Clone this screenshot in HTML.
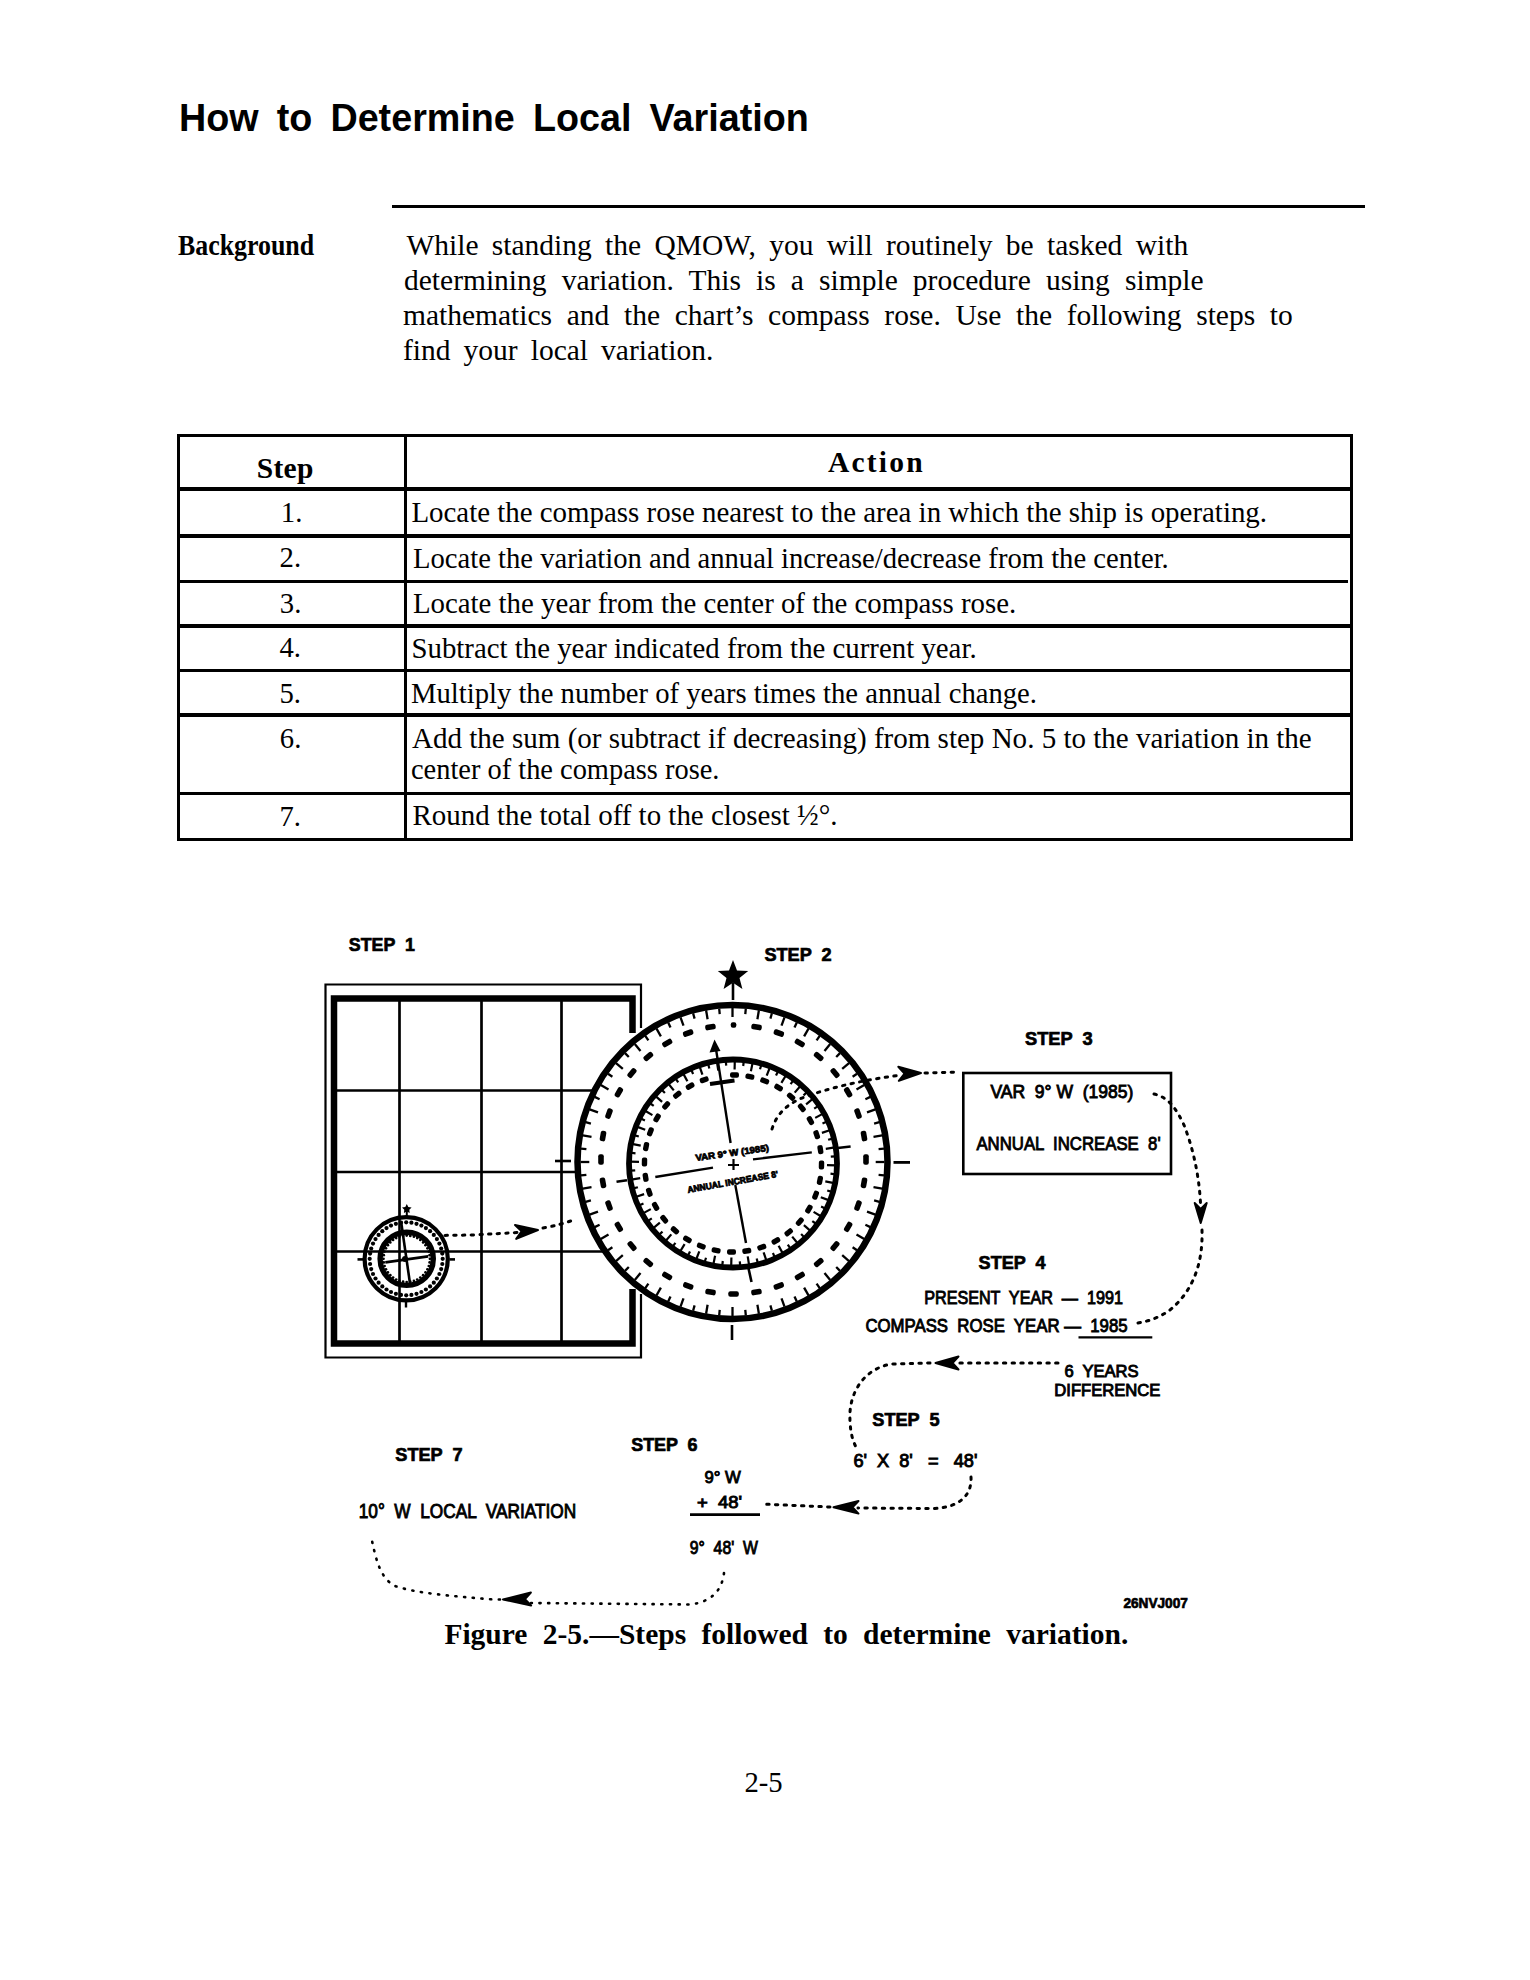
<!DOCTYPE html>
<html><head><meta charset="utf-8"><title>How to Determine Local Variation</title>
<style>
html,body{margin:0;padding:0;background:#fff}
body{width:1530px;height:1980px;position:relative;overflow:hidden;color:#000}
.t{position:absolute;white-space:pre;line-height:1;color:#000}
.S{font-family:"Liberation Sans",sans-serif}
.Sb{font-family:"Liberation Sans",sans-serif;font-weight:bold}
.R{font-family:"Liberation Serif",serif}
.Rb{font-family:"Liberation Serif",serif;font-weight:bold}
.ln{position:absolute;background:#000}
.fig{position:absolute;left:0;top:0}
</style></head><body>
<svg class="fig" width="1530" height="1980" viewBox="0 0 1530 1980">
<path d="M641,1028 V984.5 H325.5 V1357.5 H641 V1294" fill="none" stroke="#000" stroke-width="2.2"/>
<path d="M632.5,1033 V998.5 H334 V1343.5 H632.5 V1289" fill="none" stroke="#000" stroke-width="6.5"/>
<line x1="399.5" y1="1000" x2="399.5" y2="1342" stroke="#000" stroke-width="2.7"/>
<line x1="481.5" y1="1000" x2="481.5" y2="1342" stroke="#000" stroke-width="2.7"/>
<line x1="561.5" y1="1000" x2="561.5" y2="1342" stroke="#000" stroke-width="2.7"/>
<line x1="336" y1="1090.5" x2="630" y2="1090.5" stroke="#000" stroke-width="2.7"/>
<line x1="336" y1="1172" x2="630" y2="1172" stroke="#000" stroke-width="2.7"/>
<line x1="336" y1="1251.5" x2="630" y2="1251.5" stroke="#000" stroke-width="2.7"/>
<circle cx="406.2" cy="1258.8" r="41.6" fill="#fff" stroke="#000" stroke-width="4.2"/>
<line x1="399.5" y1="1216" x2="399.5" y2="1302" stroke="#000" stroke-width="2.6"/>
<line x1="364" y1="1251.5" x2="448" y2="1251.5" stroke="#000" stroke-width="2.6"/>
<circle cx="406.2" cy="1222.3" r="2.1" fill="#000"/>
<circle cx="411.4" cy="1222.7" r="2.1" fill="#000"/>
<circle cx="416.5" cy="1223.8" r="2.1" fill="#000"/>
<circle cx="421.4" cy="1225.6" r="2.1" fill="#000"/>
<circle cx="425.9" cy="1228.1" r="2.1" fill="#000"/>
<circle cx="430.1" cy="1231.2" r="2.1" fill="#000"/>
<circle cx="433.8" cy="1234.9" r="2.1" fill="#000"/>
<circle cx="436.9" cy="1239.1" r="2.1" fill="#000"/>
<circle cx="439.4" cy="1243.6" r="2.1" fill="#000"/>
<circle cx="441.2" cy="1248.5" r="2.1" fill="#000"/>
<circle cx="442.3" cy="1253.6" r="2.1" fill="#000"/>
<circle cx="442.7" cy="1258.8" r="2.1" fill="#000"/>
<circle cx="442.3" cy="1264.0" r="2.1" fill="#000"/>
<circle cx="441.2" cy="1269.1" r="2.1" fill="#000"/>
<circle cx="439.4" cy="1274.0" r="2.1" fill="#000"/>
<circle cx="436.9" cy="1278.5" r="2.1" fill="#000"/>
<circle cx="433.8" cy="1282.7" r="2.1" fill="#000"/>
<circle cx="430.1" cy="1286.4" r="2.1" fill="#000"/>
<circle cx="425.9" cy="1289.5" r="2.1" fill="#000"/>
<circle cx="421.4" cy="1292.0" r="2.1" fill="#000"/>
<circle cx="416.5" cy="1293.8" r="2.1" fill="#000"/>
<circle cx="411.4" cy="1294.9" r="2.1" fill="#000"/>
<circle cx="406.2" cy="1295.3" r="2.1" fill="#000"/>
<circle cx="401.0" cy="1294.9" r="2.1" fill="#000"/>
<circle cx="395.9" cy="1293.8" r="2.1" fill="#000"/>
<circle cx="391.0" cy="1292.0" r="2.1" fill="#000"/>
<circle cx="386.5" cy="1289.5" r="2.1" fill="#000"/>
<circle cx="382.3" cy="1286.4" r="2.1" fill="#000"/>
<circle cx="378.6" cy="1282.7" r="2.1" fill="#000"/>
<circle cx="375.5" cy="1278.5" r="2.1" fill="#000"/>
<circle cx="373.0" cy="1274.0" r="2.1" fill="#000"/>
<circle cx="371.2" cy="1269.1" r="2.1" fill="#000"/>
<circle cx="370.1" cy="1264.0" r="2.1" fill="#000"/>
<circle cx="369.7" cy="1258.8" r="2.1" fill="#000"/>
<circle cx="370.1" cy="1253.6" r="2.1" fill="#000"/>
<circle cx="371.2" cy="1248.5" r="2.1" fill="#000"/>
<circle cx="373.0" cy="1243.6" r="2.1" fill="#000"/>
<circle cx="375.5" cy="1239.1" r="2.1" fill="#000"/>
<circle cx="378.6" cy="1234.9" r="2.1" fill="#000"/>
<circle cx="382.3" cy="1231.2" r="2.1" fill="#000"/>
<circle cx="386.5" cy="1228.1" r="2.1" fill="#000"/>
<circle cx="391.0" cy="1225.6" r="2.1" fill="#000"/>
<circle cx="395.9" cy="1223.8" r="2.1" fill="#000"/>
<circle cx="401.0" cy="1222.7" r="2.1" fill="#000"/>
<circle cx="406.7" cy="1258.8" r="26.6" fill="none" stroke="#000" stroke-width="5.4"/>
<circle cx="406.7" cy="1235.6" r="1.35" fill="#000"/>
<circle cx="410.3" cy="1235.9" r="1.35" fill="#000"/>
<circle cx="413.9" cy="1236.7" r="1.35" fill="#000"/>
<circle cx="417.2" cy="1238.1" r="1.35" fill="#000"/>
<circle cx="420.3" cy="1240.0" r="1.35" fill="#000"/>
<circle cx="423.1" cy="1242.4" r="1.35" fill="#000"/>
<circle cx="425.5" cy="1245.2" r="1.35" fill="#000"/>
<circle cx="427.4" cy="1248.3" r="1.35" fill="#000"/>
<circle cx="428.8" cy="1251.6" r="1.35" fill="#000"/>
<circle cx="429.6" cy="1255.2" r="1.35" fill="#000"/>
<circle cx="429.9" cy="1258.8" r="1.35" fill="#000"/>
<circle cx="429.6" cy="1262.4" r="1.35" fill="#000"/>
<circle cx="428.8" cy="1266.0" r="1.35" fill="#000"/>
<circle cx="427.4" cy="1269.3" r="1.35" fill="#000"/>
<circle cx="425.5" cy="1272.4" r="1.35" fill="#000"/>
<circle cx="423.1" cy="1275.2" r="1.35" fill="#000"/>
<circle cx="420.3" cy="1277.6" r="1.35" fill="#000"/>
<circle cx="417.2" cy="1279.5" r="1.35" fill="#000"/>
<circle cx="413.9" cy="1280.9" r="1.35" fill="#000"/>
<circle cx="410.3" cy="1281.7" r="1.35" fill="#000"/>
<circle cx="406.7" cy="1282.0" r="1.35" fill="#000"/>
<circle cx="403.1" cy="1281.7" r="1.35" fill="#000"/>
<circle cx="399.5" cy="1280.9" r="1.35" fill="#000"/>
<circle cx="396.2" cy="1279.5" r="1.35" fill="#000"/>
<circle cx="393.1" cy="1277.6" r="1.35" fill="#000"/>
<circle cx="390.3" cy="1275.2" r="1.35" fill="#000"/>
<circle cx="387.9" cy="1272.4" r="1.35" fill="#000"/>
<circle cx="386.0" cy="1269.3" r="1.35" fill="#000"/>
<circle cx="384.6" cy="1266.0" r="1.35" fill="#000"/>
<circle cx="383.8" cy="1262.4" r="1.35" fill="#000"/>
<circle cx="383.5" cy="1258.8" r="1.35" fill="#000"/>
<circle cx="383.8" cy="1255.2" r="1.35" fill="#000"/>
<circle cx="384.6" cy="1251.6" r="1.35" fill="#000"/>
<circle cx="386.0" cy="1248.3" r="1.35" fill="#000"/>
<circle cx="387.9" cy="1245.2" r="1.35" fill="#000"/>
<circle cx="390.3" cy="1242.4" r="1.35" fill="#000"/>
<circle cx="393.1" cy="1240.0" r="1.35" fill="#000"/>
<circle cx="396.2" cy="1238.1" r="1.35" fill="#000"/>
<circle cx="399.5" cy="1236.7" r="1.35" fill="#000"/>
<circle cx="403.1" cy="1235.9" r="1.35" fill="#000"/>
<line x1="357.5" y1="1259.4" x2="363" y2="1259.4" stroke="#000" stroke-width="2.6"/>
<line x1="449.5" y1="1259.4" x2="455" y2="1259.4" stroke="#000" stroke-width="2.6"/>
<line x1="406" y1="1302" x2="406" y2="1307.5" stroke="#000" stroke-width="2.4"/>
<line x1="401" y1="1221" x2="410" y2="1283.5" stroke="#000" stroke-width="2.6"/>
<line x1="385.3" y1="1262.4" x2="428.2" y2="1256.4" stroke="#000" stroke-width="2.6"/>
<circle cx="405" cy="1259" r="3" fill="#000"/>
<polygon points="406.8,1204.0 408.3,1206.9 411.6,1207.5 409.3,1209.8 409.7,1213.0 406.8,1211.6 403.9,1213.0 404.3,1209.8 402.0,1207.5 405.3,1206.9" fill="#000"/>
<line x1="406.8" y1="1211" x2="406.8" y2="1216" stroke="#000" stroke-width="2"/>
<ellipse cx="732.5" cy="1162" rx="155" ry="157" fill="#fff" stroke="#000" stroke-width="6.5"/>
<line x1="732.5" y1="1008.0" x2="732.5" y2="1017.0" stroke="#000" stroke-width="2.3"/>
<line x1="745.8" y1="1008.6" x2="745.3" y2="1014.1" stroke="#000" stroke-width="2.3"/>
<line x1="758.9" y1="1010.3" x2="757.4" y2="1019.2" stroke="#000" stroke-width="2.3"/>
<line x1="771.9" y1="1013.2" x2="770.4" y2="1018.6" stroke="#000" stroke-width="2.3"/>
<line x1="784.5" y1="1017.3" x2="781.5" y2="1025.7" stroke="#000" stroke-width="2.3"/>
<line x1="796.8" y1="1022.4" x2="794.5" y2="1027.4" stroke="#000" stroke-width="2.3"/>
<line x1="808.5" y1="1028.6" x2="804.1" y2="1036.4" stroke="#000" stroke-width="2.3"/>
<line x1="819.7" y1="1035.9" x2="816.6" y2="1040.4" stroke="#000" stroke-width="2.3"/>
<line x1="830.2" y1="1044.0" x2="824.5" y2="1050.9" stroke="#000" stroke-width="2.3"/>
<line x1="840.0" y1="1053.1" x2="836.2" y2="1057.0" stroke="#000" stroke-width="2.3"/>
<line x1="849.0" y1="1063.0" x2="842.2" y2="1068.8" stroke="#000" stroke-width="2.3"/>
<line x1="857.0" y1="1073.7" x2="852.6" y2="1076.8" stroke="#000" stroke-width="2.3"/>
<line x1="864.2" y1="1085.0" x2="856.5" y2="1089.5" stroke="#000" stroke-width="2.3"/>
<line x1="870.3" y1="1096.9" x2="865.4" y2="1099.2" stroke="#000" stroke-width="2.3"/>
<line x1="875.4" y1="1109.3" x2="867.0" y2="1112.4" stroke="#000" stroke-width="2.3"/>
<line x1="879.4" y1="1122.1" x2="874.1" y2="1123.6" stroke="#000" stroke-width="2.3"/>
<line x1="882.2" y1="1135.3" x2="873.5" y2="1136.8" stroke="#000" stroke-width="2.3"/>
<line x1="884.0" y1="1148.6" x2="878.6" y2="1149.1" stroke="#000" stroke-width="2.3"/>
<line x1="884.5" y1="1162.0" x2="875.7" y2="1162.0" stroke="#000" stroke-width="2.3"/>
<line x1="884.0" y1="1175.4" x2="878.6" y2="1174.9" stroke="#000" stroke-width="2.3"/>
<line x1="882.2" y1="1188.7" x2="873.5" y2="1187.2" stroke="#000" stroke-width="2.3"/>
<line x1="879.4" y1="1201.9" x2="874.1" y2="1200.4" stroke="#000" stroke-width="2.3"/>
<line x1="875.4" y1="1214.7" x2="867.0" y2="1211.6" stroke="#000" stroke-width="2.3"/>
<line x1="870.3" y1="1227.1" x2="865.4" y2="1224.8" stroke="#000" stroke-width="2.3"/>
<line x1="864.2" y1="1239.0" x2="856.5" y2="1234.5" stroke="#000" stroke-width="2.3"/>
<line x1="857.0" y1="1250.3" x2="852.6" y2="1247.2" stroke="#000" stroke-width="2.3"/>
<line x1="849.0" y1="1261.0" x2="842.2" y2="1255.2" stroke="#000" stroke-width="2.3"/>
<line x1="840.0" y1="1270.9" x2="836.2" y2="1267.0" stroke="#000" stroke-width="2.3"/>
<line x1="830.2" y1="1280.0" x2="824.5" y2="1273.1" stroke="#000" stroke-width="2.3"/>
<line x1="819.7" y1="1288.1" x2="816.6" y2="1283.6" stroke="#000" stroke-width="2.3"/>
<line x1="808.5" y1="1295.4" x2="804.1" y2="1287.6" stroke="#000" stroke-width="2.3"/>
<line x1="796.8" y1="1301.6" x2="794.5" y2="1296.6" stroke="#000" stroke-width="2.3"/>
<line x1="784.5" y1="1306.7" x2="781.5" y2="1298.3" stroke="#000" stroke-width="2.3"/>
<line x1="771.9" y1="1310.8" x2="770.4" y2="1305.4" stroke="#000" stroke-width="2.3"/>
<line x1="758.9" y1="1313.7" x2="757.4" y2="1304.8" stroke="#000" stroke-width="2.3"/>
<line x1="745.8" y1="1315.4" x2="745.3" y2="1309.9" stroke="#000" stroke-width="2.3"/>
<line x1="732.5" y1="1316.0" x2="732.5" y2="1307.0" stroke="#000" stroke-width="2.3"/>
<line x1="719.2" y1="1315.4" x2="719.7" y2="1309.9" stroke="#000" stroke-width="2.3"/>
<line x1="706.1" y1="1313.7" x2="707.6" y2="1304.8" stroke="#000" stroke-width="2.3"/>
<line x1="693.1" y1="1310.8" x2="694.6" y2="1305.4" stroke="#000" stroke-width="2.3"/>
<line x1="680.5" y1="1306.7" x2="683.5" y2="1298.3" stroke="#000" stroke-width="2.3"/>
<line x1="668.2" y1="1301.6" x2="670.5" y2="1296.6" stroke="#000" stroke-width="2.3"/>
<line x1="656.5" y1="1295.4" x2="660.9" y2="1287.6" stroke="#000" stroke-width="2.3"/>
<line x1="645.3" y1="1288.1" x2="648.4" y2="1283.6" stroke="#000" stroke-width="2.3"/>
<line x1="634.8" y1="1280.0" x2="640.5" y2="1273.1" stroke="#000" stroke-width="2.3"/>
<line x1="625.0" y1="1270.9" x2="628.8" y2="1267.0" stroke="#000" stroke-width="2.3"/>
<line x1="616.0" y1="1261.0" x2="622.8" y2="1255.2" stroke="#000" stroke-width="2.3"/>
<line x1="608.0" y1="1250.3" x2="612.4" y2="1247.2" stroke="#000" stroke-width="2.3"/>
<line x1="600.8" y1="1239.0" x2="608.5" y2="1234.5" stroke="#000" stroke-width="2.3"/>
<line x1="594.7" y1="1227.1" x2="599.6" y2="1224.8" stroke="#000" stroke-width="2.3"/>
<line x1="589.6" y1="1214.7" x2="598.0" y2="1211.6" stroke="#000" stroke-width="2.3"/>
<line x1="585.6" y1="1201.9" x2="590.9" y2="1200.4" stroke="#000" stroke-width="2.3"/>
<line x1="582.8" y1="1188.7" x2="591.5" y2="1187.2" stroke="#000" stroke-width="2.3"/>
<line x1="581.0" y1="1175.4" x2="586.4" y2="1174.9" stroke="#000" stroke-width="2.3"/>
<line x1="580.5" y1="1162.0" x2="589.3" y2="1162.0" stroke="#000" stroke-width="2.3"/>
<line x1="581.0" y1="1148.6" x2="586.4" y2="1149.1" stroke="#000" stroke-width="2.3"/>
<line x1="582.8" y1="1135.3" x2="591.5" y2="1136.8" stroke="#000" stroke-width="2.3"/>
<line x1="585.6" y1="1122.1" x2="590.9" y2="1123.6" stroke="#000" stroke-width="2.3"/>
<line x1="589.6" y1="1109.3" x2="598.0" y2="1112.4" stroke="#000" stroke-width="2.3"/>
<line x1="594.7" y1="1096.9" x2="599.6" y2="1099.2" stroke="#000" stroke-width="2.3"/>
<line x1="600.8" y1="1085.0" x2="608.5" y2="1089.5" stroke="#000" stroke-width="2.3"/>
<line x1="608.0" y1="1073.7" x2="612.4" y2="1076.8" stroke="#000" stroke-width="2.3"/>
<line x1="616.0" y1="1063.0" x2="622.8" y2="1068.8" stroke="#000" stroke-width="2.3"/>
<line x1="625.0" y1="1053.1" x2="628.8" y2="1057.0" stroke="#000" stroke-width="2.3"/>
<line x1="634.8" y1="1044.0" x2="640.5" y2="1050.9" stroke="#000" stroke-width="2.3"/>
<line x1="645.3" y1="1035.9" x2="648.4" y2="1040.4" stroke="#000" stroke-width="2.3"/>
<line x1="656.5" y1="1028.6" x2="660.9" y2="1036.4" stroke="#000" stroke-width="2.3"/>
<line x1="668.2" y1="1022.4" x2="670.5" y2="1027.4" stroke="#000" stroke-width="2.3"/>
<line x1="680.5" y1="1017.3" x2="683.5" y2="1025.7" stroke="#000" stroke-width="2.3"/>
<line x1="693.1" y1="1013.2" x2="694.6" y2="1018.6" stroke="#000" stroke-width="2.3"/>
<line x1="706.1" y1="1010.3" x2="707.6" y2="1019.2" stroke="#000" stroke-width="2.3"/>
<line x1="719.2" y1="1008.6" x2="719.7" y2="1014.1" stroke="#000" stroke-width="2.3"/>
<rect x="730.8" y="1022.2" width="5.5" height="5.6" rx="2" fill="#000" transform="rotate(0 733.5 1025.0)"/>
<rect x="751.3" y="1024.2" width="10.5" height="5.6" rx="2" fill="#000" transform="rotate(10 756.5 1027.0)"/>
<rect x="773.6" y="1030.3" width="10.5" height="5.6" rx="2" fill="#000" transform="rotate(20 778.8 1033.1)"/>
<rect x="794.5" y="1040.2" width="10.5" height="5.6" rx="2" fill="#000" transform="rotate(30 799.8 1043.0)"/>
<rect x="813.4" y="1053.7" width="10.5" height="5.6" rx="2" fill="#000" transform="rotate(40 818.7 1056.5)"/>
<rect x="829.8" y="1070.2" width="10.5" height="5.6" rx="2" fill="#000" transform="rotate(50 835.0 1073.0)"/>
<rect x="843.0" y="1089.5" width="10.5" height="5.6" rx="2" fill="#000" transform="rotate(60 848.2 1092.2)"/>
<rect x="852.8" y="1110.7" width="10.5" height="5.6" rx="2" fill="#000" transform="rotate(70 858.0 1113.5)"/>
<rect x="858.7" y="1133.3" width="10.5" height="5.6" rx="2" fill="#000" transform="rotate(80 864.0 1136.1)"/>
<rect x="860.8" y="1156.7" width="10.5" height="5.6" rx="2" fill="#000" transform="rotate(90 866.0 1159.5)"/>
<rect x="858.7" y="1180.1" width="10.5" height="5.6" rx="2" fill="#000" transform="rotate(100 864.0 1182.9)"/>
<rect x="852.8" y="1202.7" width="10.5" height="5.6" rx="2" fill="#000" transform="rotate(110 858.0 1205.5)"/>
<rect x="843.0" y="1224.0" width="10.5" height="5.6" rx="2" fill="#000" transform="rotate(120 848.2 1226.8)"/>
<rect x="829.8" y="1243.2" width="10.5" height="5.6" rx="2" fill="#000" transform="rotate(130 835.0 1246.0)"/>
<rect x="813.4" y="1259.7" width="10.5" height="5.6" rx="2" fill="#000" transform="rotate(140 818.7 1262.5)"/>
<rect x="794.5" y="1273.2" width="10.5" height="5.6" rx="2" fill="#000" transform="rotate(150 799.8 1276.0)"/>
<rect x="773.6" y="1283.1" width="10.5" height="5.6" rx="2" fill="#000" transform="rotate(160 778.8 1285.9)"/>
<rect x="751.3" y="1289.2" width="10.5" height="5.6" rx="2" fill="#000" transform="rotate(170 756.5 1292.0)"/>
<rect x="728.2" y="1291.2" width="10.5" height="5.6" rx="2" fill="#000" transform="rotate(180 733.5 1294.0)"/>
<rect x="705.2" y="1289.2" width="10.5" height="5.6" rx="2" fill="#000" transform="rotate(190 710.5 1292.0)"/>
<rect x="682.9" y="1283.1" width="10.5" height="5.6" rx="2" fill="#000" transform="rotate(200 688.2 1285.9)"/>
<rect x="662.0" y="1273.2" width="10.5" height="5.6" rx="2" fill="#000" transform="rotate(210 667.2 1276.0)"/>
<rect x="643.1" y="1259.7" width="10.5" height="5.6" rx="2" fill="#000" transform="rotate(220 648.3 1262.5)"/>
<rect x="626.7" y="1243.2" width="10.5" height="5.6" rx="2" fill="#000" transform="rotate(230 632.0 1246.0)"/>
<rect x="613.5" y="1224.0" width="10.5" height="5.6" rx="2" fill="#000" transform="rotate(240 618.8 1226.8)"/>
<rect x="603.7" y="1202.7" width="10.5" height="5.6" rx="2" fill="#000" transform="rotate(250 609.0 1205.5)"/>
<rect x="597.8" y="1180.1" width="10.5" height="5.6" rx="2" fill="#000" transform="rotate(260 603.0 1182.9)"/>
<rect x="595.8" y="1156.7" width="10.5" height="5.6" rx="2" fill="#000" transform="rotate(270 601.0 1159.5)"/>
<rect x="597.8" y="1133.3" width="10.5" height="5.6" rx="2" fill="#000" transform="rotate(280 603.0 1136.1)"/>
<rect x="603.7" y="1110.7" width="10.5" height="5.6" rx="2" fill="#000" transform="rotate(290 609.0 1113.5)"/>
<rect x="613.5" y="1089.5" width="10.5" height="5.6" rx="2" fill="#000" transform="rotate(300 618.8 1092.2)"/>
<rect x="626.7" y="1070.2" width="10.5" height="5.6" rx="2" fill="#000" transform="rotate(310 632.0 1073.0)"/>
<rect x="643.1" y="1053.7" width="10.5" height="5.6" rx="2" fill="#000" transform="rotate(320 648.3 1056.5)"/>
<rect x="662.0" y="1040.2" width="10.5" height="5.6" rx="2" fill="#000" transform="rotate(330 667.2 1043.0)"/>
<rect x="682.9" y="1030.3" width="10.5" height="5.6" rx="2" fill="#000" transform="rotate(340 688.2 1033.1)"/>
<rect x="705.2" y="1024.2" width="10.5" height="5.6" rx="2" fill="#000" transform="rotate(350 710.5 1027.0)"/>
<line x1="733" y1="983" x2="733" y2="1000" stroke="#000" stroke-width="2.6"/>
<polygon points="733.0,960.0 737.0,970.5 748.2,971.1 739.5,978.1 742.4,988.9 733.0,982.8 723.6,988.9 726.5,978.1 717.8,971.1 729.0,970.5" fill="#000"/>
<line x1="893.5" y1="1162.4" x2="910" y2="1162.4" stroke="#000" stroke-width="2.8"/>
<line x1="555" y1="1161" x2="571" y2="1161" stroke="#000" stroke-width="2.6"/>
<line x1="732" y1="1325" x2="732" y2="1340" stroke="#000" stroke-width="2.6"/>
<circle cx="733" cy="1163.5" r="104" fill="none" stroke="#000" stroke-width="5.8"/>
<line x1="716.9" y1="1061.8" x2="718.3" y2="1070.7" stroke="#000" stroke-width="2.2"/>
<line x1="725.8" y1="1060.8" x2="726.2" y2="1065.7" stroke="#000" stroke-width="2.2"/>
<line x1="734.8" y1="1060.5" x2="734.6" y2="1069.5" stroke="#000" stroke-width="2.2"/>
<line x1="743.8" y1="1061.1" x2="743.2" y2="1066.0" stroke="#000" stroke-width="2.2"/>
<line x1="752.7" y1="1062.4" x2="750.9" y2="1071.2" stroke="#000" stroke-width="2.2"/>
<line x1="761.4" y1="1064.5" x2="760.0" y2="1069.3" stroke="#000" stroke-width="2.2"/>
<line x1="769.9" y1="1067.3" x2="766.7" y2="1075.7" stroke="#000" stroke-width="2.2"/>
<line x1="778.2" y1="1070.9" x2="776.0" y2="1075.4" stroke="#000" stroke-width="2.2"/>
<line x1="786.0" y1="1075.2" x2="781.4" y2="1082.9" stroke="#000" stroke-width="2.2"/>
<line x1="793.5" y1="1080.2" x2="790.6" y2="1084.2" stroke="#000" stroke-width="2.2"/>
<line x1="800.6" y1="1085.8" x2="794.7" y2="1092.6" stroke="#000" stroke-width="2.2"/>
<line x1="807.1" y1="1092.0" x2="803.5" y2="1095.4" stroke="#000" stroke-width="2.2"/>
<line x1="813.0" y1="1098.7" x2="806.1" y2="1104.3" stroke="#000" stroke-width="2.2"/>
<line x1="818.4" y1="1105.9" x2="814.2" y2="1108.7" stroke="#000" stroke-width="2.2"/>
<line x1="823.1" y1="1113.6" x2="815.2" y2="1117.9" stroke="#000" stroke-width="2.2"/>
<line x1="827.1" y1="1121.6" x2="822.5" y2="1123.6" stroke="#000" stroke-width="2.2"/>
<line x1="830.4" y1="1130.0" x2="821.9" y2="1132.9" stroke="#000" stroke-width="2.2"/>
<line x1="832.9" y1="1138.6" x2="828.1" y2="1139.8" stroke="#000" stroke-width="2.2"/>
<line x1="834.7" y1="1147.4" x2="825.8" y2="1148.8" stroke="#000" stroke-width="2.2"/>
<line x1="835.7" y1="1156.3" x2="830.8" y2="1156.7" stroke="#000" stroke-width="2.2"/>
<line x1="836.0" y1="1165.3" x2="827.0" y2="1165.1" stroke="#000" stroke-width="2.2"/>
<line x1="835.4" y1="1174.3" x2="830.5" y2="1173.7" stroke="#000" stroke-width="2.2"/>
<line x1="834.1" y1="1183.2" x2="825.3" y2="1181.4" stroke="#000" stroke-width="2.2"/>
<line x1="832.0" y1="1191.9" x2="827.2" y2="1190.5" stroke="#000" stroke-width="2.2"/>
<line x1="829.2" y1="1200.4" x2="820.8" y2="1197.2" stroke="#000" stroke-width="2.2"/>
<line x1="825.6" y1="1208.7" x2="821.1" y2="1206.5" stroke="#000" stroke-width="2.2"/>
<line x1="821.3" y1="1216.5" x2="813.6" y2="1211.9" stroke="#000" stroke-width="2.2"/>
<line x1="816.3" y1="1224.0" x2="812.3" y2="1221.1" stroke="#000" stroke-width="2.2"/>
<line x1="810.7" y1="1231.1" x2="803.9" y2="1225.2" stroke="#000" stroke-width="2.2"/>
<line x1="804.5" y1="1237.6" x2="801.1" y2="1234.0" stroke="#000" stroke-width="2.2"/>
<line x1="797.8" y1="1243.5" x2="792.2" y2="1236.6" stroke="#000" stroke-width="2.2"/>
<line x1="790.6" y1="1248.9" x2="787.8" y2="1244.7" stroke="#000" stroke-width="2.2"/>
<line x1="782.9" y1="1253.6" x2="778.6" y2="1245.7" stroke="#000" stroke-width="2.2"/>
<line x1="774.9" y1="1257.6" x2="772.9" y2="1253.0" stroke="#000" stroke-width="2.2"/>
<line x1="766.5" y1="1260.9" x2="763.6" y2="1252.4" stroke="#000" stroke-width="2.2"/>
<line x1="757.9" y1="1263.4" x2="756.7" y2="1258.6" stroke="#000" stroke-width="2.2"/>
<line x1="749.1" y1="1265.2" x2="747.7" y2="1256.3" stroke="#000" stroke-width="2.2"/>
<line x1="740.2" y1="1266.2" x2="739.8" y2="1261.3" stroke="#000" stroke-width="2.2"/>
<line x1="731.2" y1="1266.5" x2="731.4" y2="1257.5" stroke="#000" stroke-width="2.2"/>
<line x1="722.2" y1="1265.9" x2="722.8" y2="1261.0" stroke="#000" stroke-width="2.2"/>
<line x1="713.3" y1="1264.6" x2="715.1" y2="1255.8" stroke="#000" stroke-width="2.2"/>
<line x1="704.6" y1="1262.5" x2="706.0" y2="1257.7" stroke="#000" stroke-width="2.2"/>
<line x1="696.1" y1="1259.7" x2="699.3" y2="1251.3" stroke="#000" stroke-width="2.2"/>
<line x1="687.8" y1="1256.1" x2="690.0" y2="1251.6" stroke="#000" stroke-width="2.2"/>
<line x1="680.0" y1="1251.8" x2="684.6" y2="1244.1" stroke="#000" stroke-width="2.2"/>
<line x1="672.5" y1="1246.8" x2="675.4" y2="1242.8" stroke="#000" stroke-width="2.2"/>
<line x1="665.4" y1="1241.2" x2="671.3" y2="1234.4" stroke="#000" stroke-width="2.2"/>
<line x1="658.9" y1="1235.0" x2="662.5" y2="1231.6" stroke="#000" stroke-width="2.2"/>
<line x1="653.0" y1="1228.3" x2="659.9" y2="1222.7" stroke="#000" stroke-width="2.2"/>
<line x1="647.6" y1="1221.1" x2="651.8" y2="1218.3" stroke="#000" stroke-width="2.2"/>
<line x1="642.9" y1="1213.4" x2="650.8" y2="1209.1" stroke="#000" stroke-width="2.2"/>
<line x1="638.9" y1="1205.4" x2="643.5" y2="1203.4" stroke="#000" stroke-width="2.2"/>
<line x1="635.6" y1="1197.0" x2="644.1" y2="1194.1" stroke="#000" stroke-width="2.2"/>
<line x1="633.1" y1="1188.4" x2="637.9" y2="1187.2" stroke="#000" stroke-width="2.2"/>
<line x1="631.3" y1="1179.6" x2="640.2" y2="1178.2" stroke="#000" stroke-width="2.2"/>
<line x1="630.3" y1="1170.7" x2="635.2" y2="1170.3" stroke="#000" stroke-width="2.2"/>
<line x1="630.0" y1="1161.7" x2="639.0" y2="1161.9" stroke="#000" stroke-width="2.2"/>
<line x1="630.6" y1="1152.7" x2="635.5" y2="1153.3" stroke="#000" stroke-width="2.2"/>
<line x1="631.9" y1="1143.8" x2="640.7" y2="1145.6" stroke="#000" stroke-width="2.2"/>
<line x1="634.0" y1="1135.1" x2="638.8" y2="1136.5" stroke="#000" stroke-width="2.2"/>
<line x1="636.8" y1="1126.6" x2="645.2" y2="1129.8" stroke="#000" stroke-width="2.2"/>
<line x1="640.4" y1="1118.3" x2="644.9" y2="1120.5" stroke="#000" stroke-width="2.2"/>
<line x1="644.7" y1="1110.5" x2="652.4" y2="1115.1" stroke="#000" stroke-width="2.2"/>
<line x1="649.7" y1="1103.0" x2="653.7" y2="1105.9" stroke="#000" stroke-width="2.2"/>
<line x1="655.3" y1="1095.9" x2="662.1" y2="1101.8" stroke="#000" stroke-width="2.2"/>
<line x1="661.5" y1="1089.4" x2="664.9" y2="1093.0" stroke="#000" stroke-width="2.2"/>
<line x1="668.2" y1="1083.5" x2="673.8" y2="1090.4" stroke="#000" stroke-width="2.2"/>
<line x1="675.4" y1="1078.1" x2="678.2" y2="1082.3" stroke="#000" stroke-width="2.2"/>
<line x1="683.1" y1="1073.4" x2="687.4" y2="1081.3" stroke="#000" stroke-width="2.2"/>
<line x1="691.1" y1="1069.4" x2="693.1" y2="1074.0" stroke="#000" stroke-width="2.2"/>
<line x1="699.5" y1="1066.1" x2="702.4" y2="1074.6" stroke="#000" stroke-width="2.2"/>
<line x1="708.1" y1="1063.6" x2="709.3" y2="1068.4" stroke="#000" stroke-width="2.2"/>
<rect x="730.0" y="1072.3" width="9" height="5.4" rx="2" fill="#000" transform="rotate(1 734.5 1075.0)"/>
<rect x="745.4" y="1073.9" width="9" height="5.4" rx="2" fill="#000" transform="rotate(11 749.9 1076.6)"/>
<rect x="760.2" y="1078.2" width="9" height="5.4" rx="2" fill="#000" transform="rotate(21 764.7 1080.9)"/>
<rect x="774.1" y="1084.9" width="9" height="5.4" rx="2" fill="#000" transform="rotate(31 778.6 1087.6)"/>
<rect x="786.6" y="1094.0" width="9" height="5.4" rx="2" fill="#000" transform="rotate(41 791.1 1096.7)"/>
<rect x="797.3" y="1105.1" width="9" height="5.4" rx="2" fill="#000" transform="rotate(51 801.8 1107.8)"/>
<rect x="805.9" y="1117.9" width="9" height="5.4" rx="2" fill="#000" transform="rotate(61 810.4 1120.6)"/>
<rect x="812.2" y="1132.0" width="9" height="5.4" rx="2" fill="#000" transform="rotate(71 816.7 1134.7)"/>
<rect x="815.9" y="1147.0" width="9" height="5.4" rx="2" fill="#000" transform="rotate(81 820.4 1149.7)"/>
<rect x="817.0" y="1162.3" width="9" height="5.4" rx="2" fill="#000" transform="rotate(91 821.5 1165.0)"/>
<rect x="815.4" y="1177.7" width="9" height="5.4" rx="2" fill="#000" transform="rotate(101 819.9 1180.4)"/>
<rect x="811.1" y="1192.5" width="9" height="5.4" rx="2" fill="#000" transform="rotate(111 815.6 1195.2)"/>
<rect x="804.4" y="1206.4" width="9" height="5.4" rx="2" fill="#000" transform="rotate(121 808.9 1209.1)"/>
<rect x="795.3" y="1218.9" width="9" height="5.4" rx="2" fill="#000" transform="rotate(131 799.8 1221.6)"/>
<rect x="784.2" y="1229.6" width="9" height="5.4" rx="2" fill="#000" transform="rotate(141 788.7 1232.3)"/>
<rect x="771.4" y="1238.2" width="9" height="5.4" rx="2" fill="#000" transform="rotate(151 775.9 1240.9)"/>
<rect x="757.3" y="1244.5" width="9" height="5.4" rx="2" fill="#000" transform="rotate(161 761.8 1247.2)"/>
<rect x="742.3" y="1248.2" width="9" height="5.4" rx="2" fill="#000" transform="rotate(171 746.8 1250.9)"/>
<rect x="727.0" y="1249.3" width="9" height="5.4" rx="2" fill="#000" transform="rotate(181 731.5 1252.0)"/>
<rect x="711.6" y="1247.7" width="9" height="5.4" rx="2" fill="#000" transform="rotate(191 716.1 1250.4)"/>
<rect x="696.8" y="1243.4" width="9" height="5.4" rx="2" fill="#000" transform="rotate(201 701.3 1246.1)"/>
<rect x="682.9" y="1236.7" width="9" height="5.4" rx="2" fill="#000" transform="rotate(211 687.4 1239.4)"/>
<rect x="670.4" y="1227.6" width="9" height="5.4" rx="2" fill="#000" transform="rotate(221 674.9 1230.3)"/>
<rect x="659.7" y="1216.5" width="9" height="5.4" rx="2" fill="#000" transform="rotate(231 664.2 1219.2)"/>
<rect x="651.1" y="1203.7" width="9" height="5.4" rx="2" fill="#000" transform="rotate(241 655.6 1206.4)"/>
<rect x="644.8" y="1189.6" width="9" height="5.4" rx="2" fill="#000" transform="rotate(251 649.3 1192.3)"/>
<rect x="641.1" y="1174.6" width="9" height="5.4" rx="2" fill="#000" transform="rotate(261 645.6 1177.3)"/>
<rect x="640.0" y="1159.3" width="9" height="5.4" rx="2" fill="#000" transform="rotate(271 644.5 1162.0)"/>
<rect x="641.6" y="1143.9" width="9" height="5.4" rx="2" fill="#000" transform="rotate(281 646.1 1146.6)"/>
<rect x="645.9" y="1129.1" width="9" height="5.4" rx="2" fill="#000" transform="rotate(291 650.4 1131.8)"/>
<rect x="652.6" y="1115.2" width="9" height="5.4" rx="2" fill="#000" transform="rotate(301 657.1 1117.9)"/>
<rect x="661.7" y="1102.7" width="9" height="5.4" rx="2" fill="#000" transform="rotate(311 666.2 1105.4)"/>
<rect x="672.8" y="1092.0" width="9" height="5.4" rx="2" fill="#000" transform="rotate(321 677.3 1094.7)"/>
<rect x="685.6" y="1083.4" width="9" height="5.4" rx="2" fill="#000" transform="rotate(331 690.1 1086.1)"/>
<rect x="699.7" y="1077.1" width="9" height="5.4" rx="2" fill="#000" transform="rotate(341 704.2 1079.8)"/>
<line x1="716" y1="1049" x2="730.6" y2="1143" stroke="#000" stroke-width="2.4"/>
<line x1="735.3" y1="1185" x2="746" y2="1243" stroke="#000" stroke-width="2.4"/>
<line x1="748" y1="1266" x2="751.5" y2="1282" stroke="#000" stroke-width="2.6"/>
<polygon points="714.5,1039.5 709.5,1052.5 720.5,1051" fill="#000"/>
<line x1="655.3" y1="1177" x2="713" y2="1167.6" stroke="#000" stroke-width="2.4"/>
<line x1="753" y1="1159.4" x2="811.8" y2="1152.4" stroke="#000" stroke-width="2.4"/>
<line x1="616.5" y1="1181.8" x2="627" y2="1180.2" stroke="#000" stroke-width="2.6"/>
<line x1="837.6" y1="1148" x2="850.6" y2="1146.5" stroke="#000" stroke-width="2.6"/>
<line x1="710" y1="1084" x2="734.5" y2="1080.5" stroke="#000" stroke-width="4"/>
<path d="M733.5,1159 v11 M728,1165 h11" stroke="#000" stroke-width="2.2"/>
<text x="695" y="1156" font-family="Liberation Sans" font-weight="bold" font-size="9" stroke="#000" stroke-width="0.8" textLength="74" lengthAdjust="spacingAndGlyphs" transform="rotate(-8 732 1152)">VAR 9° W (1985)</text>
<text x="686" y="1185" font-family="Liberation Sans" font-weight="bold" font-size="9" stroke="#000" stroke-width="0.8" textLength="92" lengthAdjust="spacingAndGlyphs" transform="rotate(-10 732 1178)">ANNUAL INCREASE 8'</text>
<rect x="963.3" y="1073" width="207.7" height="101" fill="none" stroke="#000" stroke-width="2.6"/>
<line x1="1078.5" y1="1337.4" x2="1152.3" y2="1337.4" stroke="#000" stroke-width="2.4"/>
<line x1="690" y1="1514.6" x2="760" y2="1514.6" stroke="#000" stroke-width="2.6"/>
<path d="M445,1235.4 L473,1235 C490,1234 500,1233.5 517,1232.5" fill="none" stroke="#000" stroke-width="3" stroke-linecap="round" stroke-dasharray="2.4 6.3"/>
<path d="M543,1228 C555,1226 565,1223 575,1219.5" fill="none" stroke="#000" stroke-width="3" stroke-linecap="round" stroke-dasharray="2.4 6.3"/>
<path d="M772,1129 C778,1110 792,1101 810,1095 C840,1085 870,1079 902,1075" fill="none" stroke="#000" stroke-width="3" stroke-linecap="round" stroke-dasharray="2.4 6.3"/>
<path d="M925,1073 L958,1072" fill="none" stroke="#000" stroke-width="3" stroke-linecap="round" stroke-dasharray="2.4 6.3"/>
<path d="M1154,1094 C1168,1097 1176,1108 1184,1125 C1193,1148 1199,1175 1200.5,1203" fill="none" stroke="#000" stroke-width="3" stroke-linecap="round" stroke-dasharray="2.4 6.3"/>
<path d="M1202,1230 C1203,1262 1194,1290 1170,1310 C1160,1317 1150,1321 1138,1323" fill="none" stroke="#000" stroke-width="3" stroke-linecap="round" stroke-dasharray="2.4 6.3"/>
<path d="M1058,1363 L958,1363" fill="none" stroke="#000" stroke-width="3" stroke-linecap="round" stroke-dasharray="2.4 6.3"/>
<path d="M930,1363 L892,1364 C870,1367 852,1385 850,1412 C849.5,1425 851,1437 855.5,1446" fill="none" stroke="#000" stroke-width="3" stroke-linecap="round" stroke-dasharray="2.4 6.3"/>
<path d="M971,1477 C972,1495 960,1507 935,1508.5 L858,1508" fill="none" stroke="#000" stroke-width="3" stroke-linecap="round" stroke-dasharray="2.4 6.3"/>
<path d="M830,1507 L761,1504" fill="none" stroke="#000" stroke-width="3" stroke-linecap="round" stroke-dasharray="2.4 6.3"/>
<path d="M724,1573 C722,1590 712,1602 690,1604.5 L531,1603" fill="none" stroke="#000" stroke-width="2.6" stroke-linecap="round" stroke-dasharray="1.2 7.5"/>
<path d="M500,1599.5 L494,1599.5 C450,1596 415,1593 395,1586 C380,1578 376,1560 371,1536" fill="none" stroke="#000" stroke-width="2.6" stroke-linecap="round" stroke-dasharray="1.2 7.5"/>
<polygon points="538.0,1230.0 516.2,1238.9 521.6,1231.4 515.0,1225.0" fill="#000" stroke="#000" stroke-width="2" stroke-linejoin="round"/>
<polygon points="921.0,1073.0 898.8,1080.8 904.5,1073.6 898.3,1066.8" fill="#000" stroke="#000" stroke-width="2" stroke-linejoin="round"/>
<polygon points="1200.7,1223.0 1194.7,1203.0 1200.7,1209.0 1206.7,1203.0" fill="#000" stroke="#000" stroke-width="2" stroke-linejoin="round"/>
<polygon points="935.5,1363.0 958.5,1356.5 952.5,1363.0 958.5,1369.5" fill="#000" stroke="#000" stroke-width="2" stroke-linejoin="round"/>
<polygon points="833.5,1507.3 858.5,1501.0 852.5,1507.3 858.5,1513.6" fill="#000" stroke="#000" stroke-width="2" stroke-linejoin="round"/>
<polygon points="503.0,1599.5 530.9,1592.5 525.0,1599.1 531.1,1605.5" fill="#000" stroke="#000" stroke-width="2" stroke-linejoin="round"/>
<text x="348.79999999999995" y="950.6" font-family="Liberation Sans" font-weight="bold" font-size="19" textLength="66.0" lengthAdjust="spacingAndGlyphs" xml:space="preserve" stroke="#000" stroke-width="0.7">STEP  1</text>
<text x="764.4" y="960.8000000000001" font-family="Liberation Sans" font-weight="bold" font-size="19" textLength="67.2" lengthAdjust="spacingAndGlyphs" xml:space="preserve" stroke="#000" stroke-width="0.7">STEP  2</text>
<text x="1025.0" y="1045.1999999999998" font-family="Liberation Sans" font-weight="bold" font-size="18.5" textLength="67.6" lengthAdjust="spacingAndGlyphs" xml:space="preserve" stroke="#000" stroke-width="0.7">STEP  3</text>
<text x="978.6" y="1269.1999999999998" font-family="Liberation Sans" font-weight="bold" font-size="18.5" textLength="66.9" lengthAdjust="spacingAndGlyphs" xml:space="preserve" stroke="#000" stroke-width="0.7">STEP  4</text>
<text x="872.3" y="1426.1" font-family="Liberation Sans" font-weight="bold" font-size="18.5" textLength="67.2" lengthAdjust="spacingAndGlyphs" xml:space="preserve" stroke="#000" stroke-width="0.7">STEP  5</text>
<text x="631.1999999999999" y="1450.6999999999998" font-family="Liberation Sans" font-weight="bold" font-size="18.5" textLength="66.4" lengthAdjust="spacingAndGlyphs" xml:space="preserve" stroke="#000" stroke-width="0.7">STEP  6</text>
<text x="395.29999999999995" y="1461.3999999999999" font-family="Liberation Sans" font-weight="bold" font-size="18.5" textLength="67.2" lengthAdjust="spacingAndGlyphs" xml:space="preserve" stroke="#000" stroke-width="0.7">STEP  7</text>
<text x="990.4" y="1098.3999999999999" font-family="Liberation Sans" font-weight="normal" font-size="18" textLength="142.9" lengthAdjust="spacingAndGlyphs" xml:space="preserve" stroke="#000" stroke-width="0.9">VAR  9° W  (1985)</text>
<text x="976.4" y="1150.3999999999999" font-family="Liberation Sans" font-weight="normal" font-size="19" textLength="184.2" lengthAdjust="spacingAndGlyphs" xml:space="preserve" stroke="#000" stroke-width="0.9">ANNUAL  INCREASE  8'</text>
<text x="924.1999999999999" y="1304.1" font-family="Liberation Sans" font-weight="normal" font-size="18" textLength="198.7" lengthAdjust="spacingAndGlyphs" xml:space="preserve" stroke="#000" stroke-width="0.9">PRESENT  YEAR  —  1991</text>
<text x="865.4" y="1332.1" font-family="Liberation Sans" font-weight="normal" font-size="18" textLength="262.2" lengthAdjust="spacingAndGlyphs" xml:space="preserve" stroke="#000" stroke-width="0.9">COMPASS  ROSE  YEAR —  1985</text>
<text x="1064.4" y="1377.3999999999999" font-family="Liberation Sans" font-weight="normal" font-size="16" textLength="74.2" lengthAdjust="spacingAndGlyphs" xml:space="preserve" stroke="#000" stroke-width="0.9">6  YEARS</text>
<text x="1054.3000000000002" y="1395.5" font-family="Liberation Sans" font-weight="normal" font-size="16" textLength="106.1" lengthAdjust="spacingAndGlyphs" xml:space="preserve" stroke="#000" stroke-width="0.9">DIFFERENCE</text>
<text x="853.4" y="1466.6" font-family="Liberation Sans" font-weight="normal" font-size="17.5" textLength="124.0" lengthAdjust="spacingAndGlyphs" xml:space="preserve" stroke="#000" stroke-width="0.9">6'  X  8'   =   48'</text>
<text x="704.4" y="1482.8999999999999" font-family="Liberation Sans" font-weight="normal" font-size="16.5" textLength="36.4" lengthAdjust="spacingAndGlyphs" xml:space="preserve" stroke="#000" stroke-width="0.9">9° W</text>
<text x="697.1" y="1508.1999999999998" font-family="Liberation Sans" font-weight="normal" font-size="16" textLength="45.0" lengthAdjust="spacingAndGlyphs" xml:space="preserve" stroke="#000" stroke-width="0.9">+  48'</text>
<text x="689.8" y="1554.0" font-family="Liberation Sans" font-weight="normal" font-size="17.5" textLength="68.0" lengthAdjust="spacingAndGlyphs" xml:space="preserve" stroke="#000" stroke-width="0.9">9°  48'  W</text>
<text x="358.7" y="1517.6" font-family="Liberation Sans" font-weight="normal" font-size="19.5" textLength="217.5" lengthAdjust="spacingAndGlyphs" xml:space="preserve" stroke="#000" stroke-width="0.9">10°  W  LOCAL  VARIATION</text>
<text x="1123.4" y="1608.1999999999998" font-family="Liberation Sans" font-weight="bold" font-size="14" textLength="64.4" lengthAdjust="spacingAndGlyphs" xml:space="preserve" stroke="#000" stroke-width="0.7">26NVJ007</text>
</svg>
<div class="ln" style="left:392px;top:204.5px;width:972.5px;height:3.5px"></div>
<div class="ln" style="left:177px;top:434px;width:1176px;height:3px"></div>
<div class="ln" style="left:177px;top:434px;width:2.5px;height:407px"></div>
<div class="ln" style="left:1350px;top:434px;width:3px;height:407px"></div>
<div class="ln" style="left:404px;top:434px;width:2.5px;height:407px"></div>
<div class="ln" style="left:177px;top:487px;width:1176px;height:4px"></div>
<div class="ln" style="left:177px;top:534px;width:1176px;height:4px"></div>
<div class="ln" style="left:177px;top:580px;width:1171px;height:3px"></div>
<div class="ln" style="left:177px;top:624px;width:1176px;height:4px"></div>
<div class="ln" style="left:177px;top:669px;width:1176px;height:3px"></div>
<div class="ln" style="left:177px;top:713px;width:1176px;height:4px"></div>
<div class="ln" style="left:177px;top:792px;width:1173px;height:3px"></div>
<div class="ln" style="left:177px;top:838px;width:1176px;height:3px"></div>
<div class="t Sb" style="left:178.8px;top:98.2px;font-size:39.0px;word-spacing:7.88px;transform:scaleX(0.967);transform-origin:0 0">How to Determine Local Variation</div>
<div class="t Rb" style="left:177.8px;top:231.3px;font-size:29.5px;transform:scaleX(0.877);transform-origin:0 0">Background</div>
<div class="t R" style="left:406.4px;top:230.9px;font-size:29.5px;word-spacing:5.96px">While standing the QMOW, you will routinely be tasked with</div>
<div class="t R" style="left:404.0px;top:265.9px;font-size:29.5px;word-spacing:7.75px">determining variation. This is a simple procedure using simple</div>
<div class="t R" style="left:403.0px;top:301.1px;font-size:29.5px;word-spacing:7.30px">mathematics and the chart’s compass rose. Use the following steps to</div>
<div class="t R" style="left:403.0px;top:336.3px;font-size:29.5px;word-spacing:5.67px">find your local variation.</div>
<div class="t Rb" style="left:256.7px;top:453.8px;font-size:29.5px;letter-spacing:0.33px">Step</div>
<div class="t Rb" style="left:828.0px;top:447.8px;font-size:29.5px;letter-spacing:2.20px">Action</div>
<div class="t R" style="left:280.8px;top:497.9px;font-size:28.7px">1.</div>
<div class="t R" style="left:411.4px;top:497.7px;font-size:28.92px">Locate the compass rose nearest to the area in which the ship is operating.</div>
<div class="t R" style="left:279.6px;top:543.4px;font-size:28.7px">2.</div>
<div class="t R" style="left:413.0px;top:543.8px;font-size:28.64px">Locate the variation and annual increase/decrease from the center.</div>
<div class="t R" style="left:279.8px;top:588.9px;font-size:28.7px">3.</div>
<div class="t R" style="left:413.0px;top:588.9px;font-size:28.82px">Locate the year from the center of the compass rose.</div>
<div class="t R" style="left:279.5px;top:633.4px;font-size:28.7px">4.</div>
<div class="t R" style="left:411.5px;top:633.5px;font-size:28.83px">Subtract the year indicated from the current year.</div>
<div class="t R" style="left:279.5px;top:678.7px;font-size:28.7px">5.</div>
<div class="t R" style="left:411.0px;top:678.7px;font-size:28.65px">Multiply the number of years times the annual change.</div>
<div class="t R" style="left:279.8px;top:724.0px;font-size:28.7px">6.</div>
<div class="t R" style="left:412.0px;top:723.5px;font-size:29.04px">Add the sum (or subtract if decreasing) from step No. 5 to the variation in the</div>
<div class="t R" style="left:411.0px;top:755.5px;font-size:28.42px">center of the compass rose.</div>
<div class="t R" style="left:279.5px;top:802.4px;font-size:28.7px">7.</div>
<div class="t R" style="left:412.5px;top:801.2px;font-size:28.94px">Round the total off to the closest ½°.</div>
<div class="t Rb" style="left:444.4px;top:1619.5px;font-size:29.5px;word-spacing:7.92px">Figure 2-5.—Steps followed to determine variation.</div>
<div class="t R" style="left:744.4px;top:1767.7px;font-size:28.7px">2-5</div>
</body></html>
